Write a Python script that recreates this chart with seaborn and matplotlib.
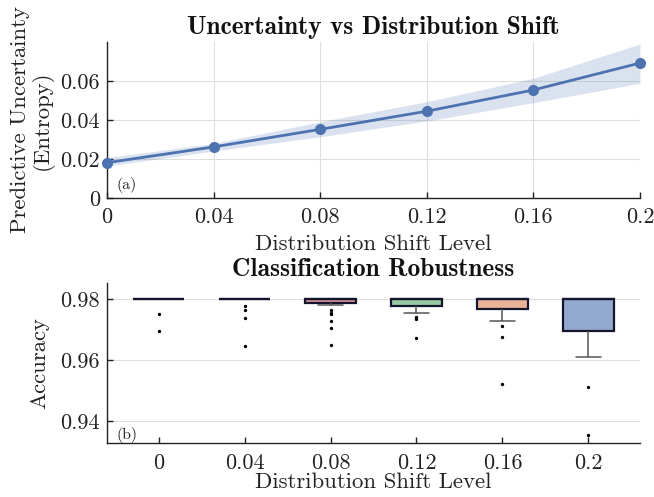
import numpy as np
import pandas as pd
import matplotlib
matplotlib.use("Agg")
import matplotlib.pyplot as plt
import seaborn as sns
from matplotlib.colors import to_rgb

# ---------------- data ----------------
shift_levels = [0, 0.04, 0.08, 0.12, 0.16, 0.2]
shift_labels = ["0", "0.04", "0.08", "0.12", "0.16", "0.2"]
entropy_mean = [0.0181, 0.0262, 0.0352, 0.0445, 0.0554, 0.0692]
entropy_low = [0.0164, 0.0241, 0.0314, 0.0395, 0.0489, 0.0588]
entropy_high = [0.0207, 0.0280, 0.0391, 0.0494, 0.0614, 0.0790]

acc_0 = [0.9695, 0.9750] + [0.98] * 18
acc_004 = [0.9648, 0.9738, 0.9764, 0.9777] + [0.98] * 16
acc_008 = [0.9649, 0.9704, 0.9729, 0.9751, 0.9754, 0.9765,
           0.9780, 0.9788, 0.9790, 0.9795] + [0.98] * 19
acc_012 = [0.9672, 0.9734, 0.9742, 0.9754, 0.9760, 0.9770,
           0.9778, 0.9790] + [0.98] * 17
acc_016 = [0.9521, 0.9677, 0.9711, 0.9729, 0.9740, 0.9755,
           0.9767, 0.9780, 0.9790] + [0.98] * 16
acc_02 = [0.9354, 0.9511, 0.9612, 0.9640, 0.9660, 0.9680, 0.9696,
          0.9720, 0.9750, 0.9770, 0.9780, 0.9790] + [0.98] * 13

y_ticks_top = [0, 0.02, 0.04, 0.06]
y_tick_labels_top = ["0", "0.02", "0.04", "0.06"]
x_ticks_top = [0, 0.04, 0.08, 0.12, 0.16, 0.2]
y_ticks_bot = [0.94, 0.96, 0.98]
y_tick_labels_bot = ["0.94", "0.96", "0.98"]

acc_groups = [acc_0, acc_004, acc_008, acc_012, acc_016, acc_02]
df = pd.DataFrame({
    "level": sum([[lab] * len(g) for lab, g in zip(shift_labels, acc_groups)], []),
    "acc": sum(acc_groups, []),
})

# ---------------- style ----------------
sns.set_style("ticks")
plt.rcParams["font.family"] = ["cmr10", "DejaVu Serif"]
plt.rcParams["mathtext.fontset"] = "cm"
plt.rcParams["axes.formatter.use_mathtext"] = True
plt.rcParams["axes.unicode_minus"] = False

deep = sns.color_palette("deep")
blue = deep[0]

TICK_FS = 16
LABEL_FS = 16.4
TITLE_FS = 18.3
PANEL_FS = 11.5

fig = plt.figure(figsize=(6.54, 4.97), dpi=100)
ax1 = fig.add_axes([0.1636, 0.6016, 0.815, 0.3139])
ax2 = fig.add_axes([0.1636, 0.108, 0.815, 0.322])

grid_kw = dict(color="#dedede", linewidth=0.8)
for ax in (ax1, ax2):
    ax.set_axisbelow(True)
    ax.grid(True, **grid_kw)
    for s in ("top", "right"):
        ax.spines[s].set_visible(False)
    for s in ("left", "bottom"):
        ax.spines[s].set_color("#222222")
        ax.spines[s].set_linewidth(1.0)
    ax.tick_params(direction="in", length=4, width=1.0, color="#222222",
                   labelsize=TICK_FS, labelcolor="#222222", pad=5)
    ax.tick_params(axis="x", pad=7)

# ---------------- top panel ----------------
ax1.fill_between(shift_levels, entropy_low, entropy_high, color=blue,
                 alpha=0.2, linewidth=0, zorder=1)
sns.lineplot(x=shift_levels, y=entropy_mean, ax=ax1, color=blue, linewidth=2,
             marker="o", markersize=8, markeredgewidth=0, zorder=3)
for ln in ax1.lines:
    ln.set_clip_on(False)
ax1.set_xlim(0, 0.2)
ax1.set_ylim(0, 0.08)
ax1.set_xticks(x_ticks_top)
ax1.set_xticklabels(shift_labels)
ax1.set_yticks(y_ticks_top)
ax1.set_yticklabels(y_tick_labels_top)
ax1.set_xlabel("Distribution Shift Level", fontsize=LABEL_FS, color="#222222",
               labelpad=5)
ax1.set_ylabel("Predictive Uncertainty\n(Entropy)", fontsize=LABEL_FS,
               color="#222222", labelpad=5, linespacing=1.05)
ax1.set_title("Uncertainty vs Distribution Shift", fontsize=TITLE_FS,
              fontname="cmb10", color="#111111", pad=6)
ax1.text(0.018, 0.06, "(a)", transform=ax1.transAxes, fontsize=PANEL_FS,
         color="#222222")

# ---------------- bottom panel ----------------
pal = list(reversed(deep[:6]))
sns.boxplot(data=df, x="level", y="acc", hue="level", order=shift_labels,
            hue_order=shift_labels, palette=pal, saturation=1, width=0.6,
            legend=False, ax=ax2, linewidth=1.6, linecolor="#151530",
            whiskerprops=dict(color="#555555", linewidth=1.1),
            capprops=dict(color="#555555", linewidth=1.1),
            medianprops=dict(color="#151530", linewidth=1.6),
            flierprops=dict(marker="o", markersize=1.4,
                            markerfacecolor="black",
                            markeredgecolor="black"))
for patch in ax2.patches:
    r, g, b = to_rgb(patch.get_facecolor())
    patch.set_facecolor((r, g, b, 0.6))
ax2.set_xlim(-0.6, 5.6)
ax2.set_ylim(0.9328, 0.9852)
ax2.set_yticks(y_ticks_bot)
ax2.set_yticklabels(y_tick_labels_bot)
ax2.set_xlabel("Distribution Shift Level", fontsize=LABEL_FS, color="#222222",
               labelpad=0)
ax2.set_ylabel("Accuracy", fontsize=LABEL_FS, color="#222222", labelpad=8)
ax2.set_title("Classification Robustness", fontsize=TITLE_FS, fontname="cmb10",
              color="#111111", pad=5)
ax2.text(0.018, 0.03, "(b)", transform=ax2.transAxes, fontsize=PANEL_FS,
         color="#222222")

fig.savefig("out.png", dpi=100)
